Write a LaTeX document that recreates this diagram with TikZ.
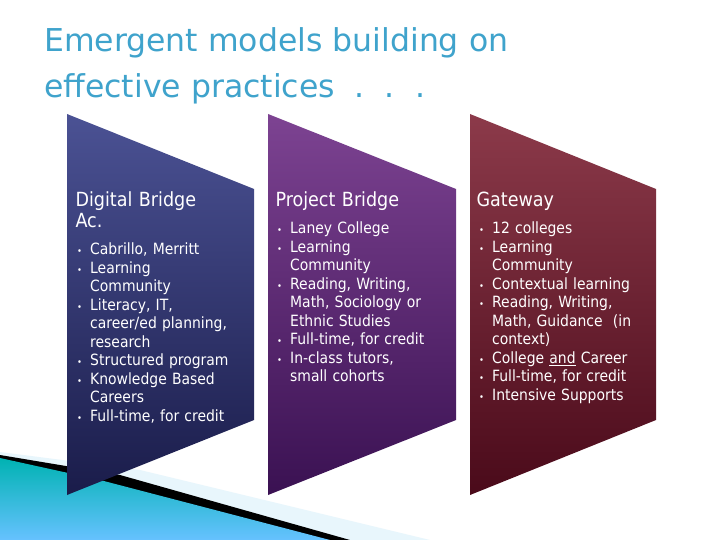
\documentclass[tikz,border=0pt]{standalone}
\usepackage{fontspec}
\setmainfont{DejaVu Sans Condensed}
\newfontfamily\ttlfont{DejaVu Sans}
\usepackage{xcolor}
\definecolor{ttl}{HTML}{3FA3CC}
\definecolor{aT}{HTML}{4B5294}\definecolor{aB}{HTML}{1A1C4A}
\definecolor{bT}{HTML}{7D4392}\definecolor{bB}{HTML}{3A1152}
\definecolor{cT}{HTML}{8C3A4A}\definecolor{cB}{HTML}{4A0A1A}
\newcommand{\bu}{\makebox[13pt][l]{\scalebox{0.6}{\textbullet}}}
\newcommand{\ind}{\hspace*{13pt}}
\begin{document}
\begin{tikzpicture}[x=1pt,y=-1pt,
  hd/.style={anchor=north west,text=white,font=\fontsize{19.5}{21}\selectfont,align=left,text width=175pt},
  bl/.style={anchor=north west,text=white,font=\fontsize{15.5}{18.5}\selectfont,align=left,text width=185pt,inner sep=0pt}]
\useasboundingbox (0,0) rectangle (720,540);
\fill[white] (0,0) rectangle (720,540);
% swoosh
\fill[gray!15!cyan!10] (0,452) -- (140,470) -- (430,540) -- (0,540) -- cycle;
\fill[black] (0,455) -- (120,475) -- (350,540) -- (0,540) -- cycle;
\shade[top color=teal!60!cyan, bottom color=cyan!60!blue!60] (0,458) -- (100,480) -- (330,540) -- (0,540) -- cycle;
% title
\node[anchor=north west,text=ttl,font=\ttlfont\fontsize{31.5}{46}\selectfont,align=left,inner sep=0pt] (title) at (44,27) {Emergent models building on\\effective practices\ \ .\ \ .\ \ .};
% panels
\shade[top color=aT,bottom color=aB] (67,114) -- (254,189) -- (254,420) -- (67,495) -- cycle;
\shade[top color=bT,bottom color=bB] (268,114) -- (456,189) -- (456,420) -- (268,495) -- cycle;
\shade[top color=cT,bottom color=cB] (470,114) -- (656,189) -- (656,420) -- (470,495) -- cycle;
\node[hd] (h1) at (72,188) {Digital Bridge\\Ac.};
\node[bl] (l1) at (77,243) {\raggedright
\bu Cabrillo, Merritt\\
\bu Learning\\\ind Community\\
\bu Literacy, IT,\\\ind career/ed planning,\\\ind research\\
\bu Structured program\\
\bu Knowledge Based\\\ind Careers\\
\bu Full-time, for credit};
\node[hd] (h2) at (272,188) {Project Bridge};
\node[bl] (l2) at (277,222) {\raggedright
\bu Laney College\\
\bu Learning\\\ind Community\\
\bu Reading, Writing,\\\ind Math, Sociology or\\\ind Ethnic Studies\\
\bu Full-time, for credit\\
\bu In-class tutors,\\\ind small cohorts};
\node[hd] (h3) at (473,188) {Gateway};
\node[bl] (l3) at (479,222) {\raggedright
\bu 12 colleges\\
\bu Learning\\\ind Community\\
\bu Contextual learning\\
\bu Reading, Writing,\\\ind Math, Guidance\ \ (in\\\ind context)\\
\bu College \underline{and} Career\\
\bu Full-time, for credit\\
\bu Intensive Supports};
\end{tikzpicture}
\end{document}
